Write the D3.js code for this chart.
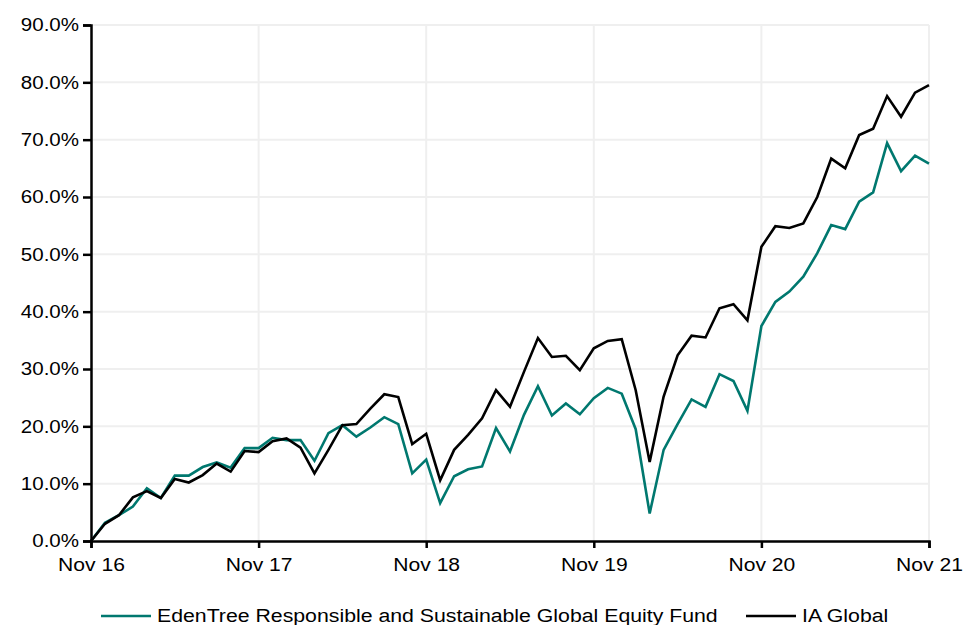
<!DOCTYPE html>
<html>
<head>
    <title>Cumulative performance</title>
    <script src="https://d3js.org/d3.v7.min.js"></script>
    <style>
        html, body {
            margin: 0;
            padding: 0;
            background: #ffffff;
        }
        #chart text {
            font-family: Arial, "Liberation Sans", sans-serif;
            fill: #000;
        }
    </style>
</head>
<body>
<div id="chart"></div>
<script>
    // Month index 0 = Nov 16 ... 60 = Nov 21
    const yearTicks = [0, 12, 24, 36, 48, 60];
    const yearLabels = ["Nov 16", "Nov 17", "Nov 18", "Nov 19", "Nov 20", "Nov 21"];
    const yTicks = [0, 10, 20, 30, 40, 50, 60, 70, 80, 90];

    const seriesNames = ["EdenTree Responsible and Sustainable Global Equity Fund", "IA Global"];

    const fundValues = [
        0, 3.2, 4.5, 6.0, 9.2, 7.5, 11.4, 11.4, 12.9, 13.7, 12.8, 16.2,
        16.2, 18.0, 17.6, 17.6, 14.0, 18.8, 20.2, 18.2, 19.8, 21.6, 20.4, 11.8,
        14.2, 6.6, 11.3, 12.5, 13.0, 19.7, 15.6, 22.0, 27.0, 21.9, 24.0, 22.1,
        24.9, 26.7, 25.7, 19.5, 4.8, 15.9, 20.4, 24.7, 23.4, 29.1, 27.9, 22.7,
        37.5, 41.7, 43.5, 46.1, 50.2, 55.1, 54.4, 59.2, 60.8, 69.4, 64.5, 67.2,
        65.8
    ];

    const sectorValues = [
        0, 3.0, 4.5, 7.6, 8.7, 7.5, 10.8, 10.2, 11.5, 13.5, 12.1, 15.7,
        15.5, 17.4, 17.9, 16.3, 11.8, 15.9, 20.2, 20.4, 23.1, 25.6, 25.1, 16.9,
        18.7, 10.6, 15.9, 18.5, 21.4, 26.3, 23.4, 29.5, 35.4, 32.1, 32.3, 29.8,
        33.6, 34.9, 35.2, 26.3, 13.8, 25.2, 32.4, 35.8, 35.5, 40.6, 41.3, 38.5,
        51.3, 54.9, 54.6, 55.4, 60.0, 66.7, 65.0, 70.8, 71.9, 77.6, 74.0, 78.2,
        79.5
    ];

    const colors = ["#00786f", "#000000"];

    const width = 963;
    const height = 625;
    const margin = {top: 25, right: 34, bottom: 84, left: 91};
    const stretch = 1.11; // the original text looks a bit wide

    const svg = d3.select("#chart")
        .append("svg")
        .attr("width", width)
        .attr("height", height);

    const x = d3.scaleLinear()
        .domain([0, 60])
        .range([margin.left, width - margin.right]);

    const y = d3.scaleLinear()
        .domain([0, 90])
        .range([height - margin.bottom, margin.top]);

    // gridlines
    svg.append("g")
        .selectAll("line")
        .data(yTicks.slice(1))
        .enter()
        .append("line")
        .attr("x1", margin.left)
        .attr("x2", width - margin.right)
        .attr("y1", d => y(d))
        .attr("y2", d => y(d))
        .attr("stroke", "#efefef")
        .attr("stroke-width", 2);

    svg.append("g")
        .selectAll("line")
        .data(yearTicks.slice(1))
        .enter()
        .append("line")
        .attr("x1", d => x(d))
        .attr("x2", d => x(d))
        .attr("y1", y(0))
        .attr("y2", y(90))
        .attr("stroke", "#efefef")
        .attr("stroke-width", 2);

    // axes
    const yAxis = d3.axisLeft(y)
        .tickValues(yTicks)
        .tickSize(8)
        .tickPadding(12)
        .tickFormat(d => d.toFixed(1) + "%");

    const xAxis = d3.axisBottom(x)
        .tickValues(yearTicks)
        .tickSize(7)
        .tickPadding(10)
        .tickFormat((d, i) => yearLabels[i]);

    const line = d3.line()
        .x((d, i) => x(i))
        .y(d => y(d));

    [fundValues, sectorValues].forEach((vals, k) => {
        svg.append("path")
            .datum(vals)
            .attr("fill", "none")
            .attr("stroke", colors[k])
            .attr("stroke-width", 2.6)
            .attr("stroke-linejoin", "miter")
            .attr("d", line);
    });

    const gy = svg.append("g")
        .attr("transform", `translate(${margin.left},0)`)
        .call(yAxis);
    gy.selectAll("text")
        .style("font-size", "18.5px")
        .attr("x", -12 / stretch)
        .attr("transform", `scale(${stretch},1)`);

    const gx = svg.append("g")
        .attr("transform", `translate(0,${y(0)})`)
        .call(xAxis);
    gx.selectAll("text")
        .style("font-size", "19px")
        .attr("transform", `scale(${stretch},1)`);

    svg.selectAll(".domain, .tick line")
        .attr("stroke", "#000")
        .attr("stroke-width", 2.5);

    // legend
    const legendItems = [
        {name: seriesNames[0], color: colors[0], x: 101},
        {name: seriesNames[1], color: colors[1], x: 746}
    ];
    const legend = svg.append("g").attr("transform", "translate(0,616)");
    legendItems.forEach(item => {
        legend.append("line")
            .attr("x1", item.x)
            .attr("x2", item.x + 50)
            .attr("stroke", item.color)
            .attr("stroke-width", 2.6);
        legend.append("text")
            .attr("x", (item.x + 56) / 1.12)
            .attr("y", 6)
            .attr("transform", "scale(1.12,1)")
            .style("font-size", "19px")
            .text(item.name);
    });
</script>
</body>
</html>
